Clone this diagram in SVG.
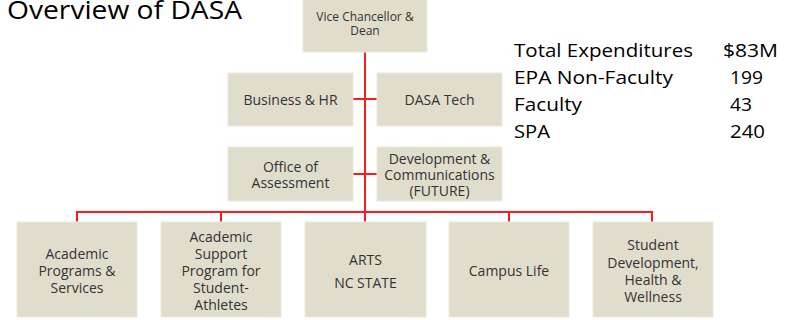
<svg xmlns="http://www.w3.org/2000/svg" width="792" height="320" viewBox="0 0 792 320">
  <style>
    .box { fill: #e1ddcd; stroke: #ebe8dd; stroke-width: 1; }
    .lbl { font-family: "Open Sans", "DejaVu Sans", sans-serif; font-size: 14px; fill: #333333; text-anchor: middle; dominant-baseline: central; }
    .lbl-s { font-size: 12px; }
    .link { stroke: #ff1a1a; stroke-width: 2; fill: none; }
    .big { font-family: "Open Sans", "Liberation Sans", sans-serif; fill: #000000; }
  </style>

  <rect width="792" height="320" fill="#ffffff"/>

  <!-- heading -->
  <text class="big" x="7" y="19" font-size="25" textLength="235" lengthAdjust="spacingAndGlyphs">Overview of DASA</text>

  <!-- staffing summary -->
  <g id="summary" class="big" font-size="18">
    <text x="514" y="57" textLength="179" lengthAdjust="spacingAndGlyphs">Total Expenditures</text>
    <text x="723" y="57" textLength="55" lengthAdjust="spacingAndGlyphs">$83M</text>
    <text x="514" y="84" textLength="159" lengthAdjust="spacingAndGlyphs">EPA Non-Faculty</text>
    <text x="730" y="84" textLength="33" lengthAdjust="spacingAndGlyphs">199</text>
    <text x="514" y="111" textLength="68" lengthAdjust="spacingAndGlyphs">Faculty</text>
    <text x="730" y="111" textLength="22" lengthAdjust="spacingAndGlyphs">43</text>
    <text x="514" y="138" textLength="36" lengthAdjust="spacingAndGlyphs">SPA</text>
    <text x="730" y="138" textLength="35" lengthAdjust="spacingAndGlyphs">240</text>
  </g>

  <!-- connectors -->
  <g id="connectors" class="link">
    <line x1="365" y1="52" x2="365" y2="213"/>
    <line x1="353" y1="99" x2="377" y2="99"/>
    <line x1="353" y1="174" x2="377" y2="174"/>
    <path d="M77 222 V212 H652 V222"/>
    <line x1="221" y1="212" x2="221" y2="222"/>
    <line x1="365" y1="212" x2="365" y2="222"/>
    <line x1="509" y1="212" x2="509" y2="222"/>
  </g>

  <g id="vc-dean">
    <rect class="box" x="303" y="-2" width="124" height="54"/>
    <text class="lbl lbl-s" x="365" y="16">Vice Chancellor &amp;</text>
    <text class="lbl lbl-s" x="365" y="30">Dean</text>
  </g>

  <g id="business-hr">
    <rect class="box" x="228" y="73" width="125" height="53"/>
    <text class="lbl" x="290.5" y="99">Business &amp; HR</text>
  </g>

  <g id="dasa-tech">
    <rect class="box" x="377" y="73" width="125" height="53"/>
    <text class="lbl" x="439.5" y="99">DASA Tech</text>
  </g>

  <g id="assessment">
    <rect class="box" x="228" y="147" width="125" height="54"/>
    <text class="lbl" x="290.5" y="166">Office of</text>
    <text class="lbl" x="290.5" y="182">Assessment</text>
  </g>

  <g id="development">
    <rect class="box" x="377" y="147" width="125" height="54"/>
    <text class="lbl" x="439.5" y="158">Development &amp;</text>
    <text class="lbl" x="439.5" y="174">Communications</text>
    <text class="lbl" x="439.5" y="190">(FUTURE)</text>
  </g>

  <g id="academic-programs">
    <rect class="box" x="17" y="222" width="120" height="95"/>
    <text class="lbl" x="77" y="253">Academic</text>
    <text class="lbl" x="77" y="270">Programs &amp;</text>
    <text class="lbl" x="77" y="287">Services</text>
  </g>

  <g id="athletes-support">
    <rect class="box" x="161" y="222" width="120" height="95"/>
    <text class="lbl" x="221" y="236">Academic</text>
    <text class="lbl" x="221" y="253">Support</text>
    <text class="lbl" x="221" y="270">Program for</text>
    <text class="lbl" x="221" y="287">Student-</text>
    <text class="lbl" x="221" y="304">Athletes</text>
  </g>

  <g id="arts">
    <rect class="box" x="305" y="222" width="121" height="95"/>
    <text class="lbl" x="365.5" y="259">ARTS</text>
    <text class="lbl" x="365.5" y="282">NC STATE</text>
  </g>

  <g id="campus-life">
    <rect class="box" x="449" y="222" width="120" height="95"/>
    <text class="lbl" x="509" y="270">Campus Life</text>
  </g>

  <g id="student-development">
    <rect class="box" x="593" y="222" width="120" height="95"/>
    <text class="lbl" x="653" y="244">Student</text>
    <text class="lbl" x="653" y="262">Development,</text>
    <text class="lbl" x="653" y="279">Health &amp;</text>
    <text class="lbl" x="653" y="296">Wellness</text>
  </g>
</svg>
